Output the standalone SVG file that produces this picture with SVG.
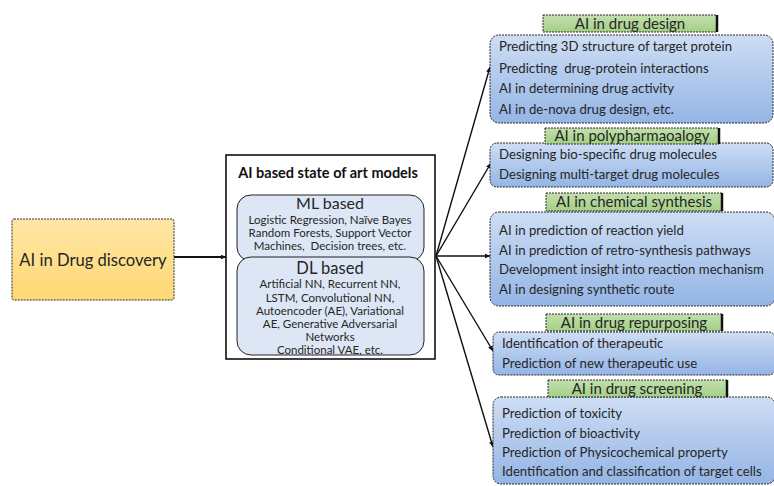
<svg xmlns="http://www.w3.org/2000/svg" width="774" height="486" viewBox="0 0 774 486">
<defs>
<linearGradient id="gOrange" x1="0" y1="0" x2="0" y2="1"><stop offset="0" stop-color="#FFE6A6"/><stop offset="1" stop-color="#FFD873"/></linearGradient>
<linearGradient id="gBlue" x1="0" y1="0" x2="0" y2="1"><stop offset="0" stop-color="#CEDDF4"/><stop offset="1" stop-color="#94B5E5"/></linearGradient>
<linearGradient id="gGreen" x1="0" y1="0" x2="0" y2="1"><stop offset="0" stop-color="#C3DFAE"/><stop offset="1" stop-color="#A3CF86"/></linearGradient>
<marker id="arr" viewBox="0 0 10 10" refX="9" refY="5" markerWidth="6" markerHeight="6" orient="auto" markerUnits="userSpaceOnUse"><path d="M0,1 L10,5 L0,9 z" fill="#111"/></marker>
<style>
text{font-family:Lato,"Liberation Sans",sans-serif;fill:#262626}
.item{font-size:13.2px}
.lbl{font-size:15px;text-anchor:middle}
.blue{fill:url(#gBlue);stroke:#2a2a2a;stroke-width:1;stroke-dasharray:2 1}
.green{fill:url(#gGreen);stroke:#2a2a2a;stroke-width:1;stroke-dasharray:2 1}
.gedge{stroke:#111;stroke-width:2.5}
.conn{stroke:#111;stroke-width:1.4;fill:none;marker-end:url(#arr)}
.sm{font-size:11.5px;text-anchor:middle}
.hd{font-size:16.5px;text-anchor:middle}
</style>
</defs>
<rect width="774" height="486" fill="#fff"/>

<g id="connectors">
<line class="conn" x1="174" y1="257" x2="226" y2="257" style="stroke-width:2"/>
<line class="conn" x1="436" y1="256" x2="490" y2="67"/>
<line class="conn" x1="436" y1="256" x2="491" y2="163"/>
<line class="conn" x1="436" y1="256" x2="490" y2="256"/>
<line class="conn" x1="436" y1="256" x2="493" y2="351"/>
<line class="conn" x1="436" y1="256" x2="493" y2="447"/>
</g>

<g id="drug-discovery">
<rect x="12" y="219" width="162" height="81" rx="2" fill="url(#gOrange)" stroke="#333" stroke-width="1" stroke-dasharray="2 1"/>
<text x="93" y="266" style="font-size:16.6px;text-anchor:middle">AI in Drug discovery</text>
</g>

<g id="models">
<rect x="226" y="155" width="209" height="204" fill="#fff" stroke="#111" stroke-width="1.6"/>
<text x="328" y="178" style="font-size:14.5px;font-weight:bold;text-anchor:middle;fill:#111">AI based state of art models</text>
</g>

<g id="ml-based">
<rect x="237" y="195" width="187" height="66" rx="14" fill="#DCE6F5" stroke="#222" stroke-width="1"/>
<text class="hd" x="330" y="209" style="font-size:16px">ML based</text>
<text class="sm" x="330" y="224">Logistic Regression, Naïve Bayes</text>
<text class="sm" x="330" y="237">Random Forests, Support Vector</text>
<text class="sm" x="330" y="250" xml:space="preserve">Machines,  Decision trees, etc.</text>
</g>

<g id="dl-based">
<rect x="237" y="257" width="187" height="98" rx="14" fill="#DCE6F5" stroke="#222" stroke-width="1"/>
<text class="hd" x="330" y="274">DL based</text>
<text class="sm" x="330" y="288">Artificial NN, Recurrent NN,</text>
<text class="sm" x="330" y="302">LSTM, Convolutional NN,</text>
<text class="sm" x="330" y="315">Autoencoder (AE), Variational</text>
<text class="sm" x="330" y="328">AE, Generative Adversarial</text>
<text class="sm" x="330" y="341">Networks</text>
<text class="sm" x="330" y="354">Conditional VAE, etc.</text>
</g>

<g id="drug-design">
<rect class="blue" x="490" y="35" width="283" height="88" rx="9"/>
<rect class="green" x="543" y="15" width="174" height="17"/>
<line class="gedge" x1="717" y1="15" x2="717" y2="32"/>
<text class="lbl" x="630" y="29">AI in drug design</text>
<text class="item" x="499" y="51">Predicting 3D structure of target protein</text>
<text class="item" x="499" y="73" xml:space="preserve">Predicting  drug-protein interactions</text>
<text class="item" x="499" y="93">AI in determining drug activity</text>
<text class="item" x="499" y="114">AI in de-nova drug design, etc.</text>
</g>

<g id="polypharmacology">
<rect class="blue" x="490" y="143" width="283" height="44" rx="7"/>
<rect class="green" x="545" y="128" width="174" height="16"/>
<line class="gedge" x1="719" y1="128" x2="719" y2="144"/>
<text class="lbl" x="632" y="141">AI in polypharmaoalogy</text>
<text class="item" x="499" y="159">Designing bio-specific drug molecules</text>
<text class="item" x="499" y="179">Designing multi-target drug molecules</text>
</g>

<g id="chemical-synthesis">
<rect class="blue" x="490" y="212" width="285" height="94" rx="9"/>
<rect class="green" x="546" y="193" width="176" height="18"/>
<line class="gedge" x1="722" y1="193" x2="722" y2="211"/>
<text class="lbl" x="634" y="207">AI in chemical synthesis</text>
<text class="item" x="499" y="235">AI in prediction of reaction yield</text>
<text class="item" x="499" y="255">AI in prediction of retro-synthesis pathways</text>
<text class="item" x="499" y="274">Development insight into reaction mechanism</text>
<text class="item" x="499" y="294">AI in designing synthetic route</text>
</g>

<g id="drug-repurposing">
<rect class="blue" x="493" y="332" width="282" height="43" rx="6"/>
<rect class="green" x="546" y="314" width="176" height="17"/>
<line class="gedge" x1="722" y1="314" x2="722" y2="331"/>
<text class="lbl" x="634" y="328">AI in drug repurposing</text>
<text class="item" x="502" y="348">Identification of therapeutic</text>
<text class="item" x="502" y="368">Prediction of new therapeutic use</text>
</g>

<g id="drug-screening">
<rect class="blue" x="493" y="397" width="282" height="87" rx="8"/>
<rect class="green" x="548" y="380" width="179" height="17"/>
<line class="gedge" x1="727" y1="380" x2="727" y2="397"/>
<text class="lbl" x="637" y="394">AI in drug screening</text>
<text class="item" x="502" y="418">Prediction of toxicity</text>
<text class="item" x="502" y="438">Prediction of bioactivity</text>
<text class="item" x="502" y="457">Prediction of Physicochemical property</text>
<text class="item" x="502" y="476">Identification and classification of target cells</text>
</g>
</svg>
